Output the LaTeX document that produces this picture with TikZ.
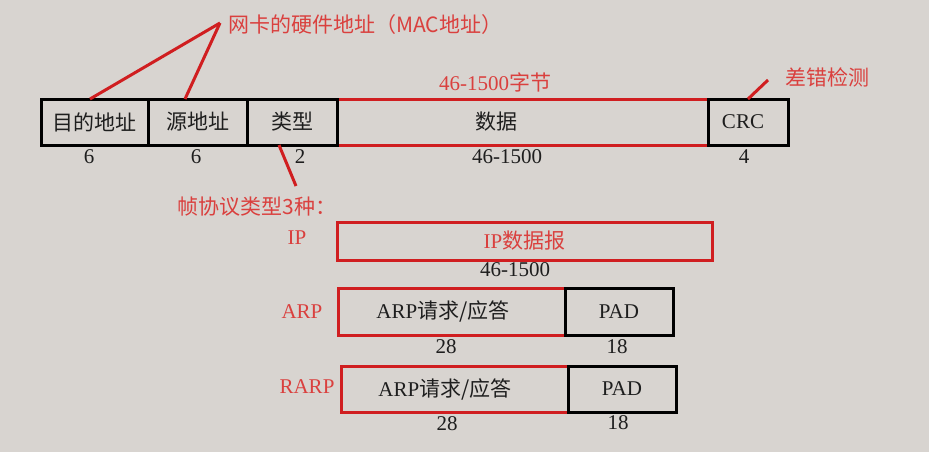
\documentclass[tikz,border=0pt]{standalone}
\usepackage{fontspec}
\setmainfont{Liberation Serif}
\newfontfamily\cjk{Noto Sans CJK SC}
\usetikzlibrary{positioning}
\definecolor{bgcol}{RGB}{216,212,208}
\definecolor{boxred}{RGB}{208,30,32}
\definecolor{notered}{RGB}{218,64,62}
\definecolor{inkcol}{RGB}{30,30,30}

\begin{document}
\begin{tikzpicture}[x=1pt,y=-1pt]
\tikzset{field/.style={rectangle,draw=black,line width=3pt,outer sep=0pt,inner sep=0pt,minimum height=46pt,text=inkcol,font=\fontsize{21}{24}\selectfont},
redfield/.style={field,draw=boxred},
size/.style={text=inkcol,font=\fontsize{21}{24}\selectfont},
note/.style={text=notered,font=\fontsize{21}{24}\selectfont},
pointer/.style={draw=boxred,line width=3pt}}
\fill[bgcol] (0,0) rectangle (929,452);
\useasboundingbox (0,0) rectangle (929,452);
% ethernet frame
\node[field,minimum width=107pt](dst) at (94.5,122){\cjk 目的地址};
\node[field,minimum width=99pt](src)[right=0pt of dst]{\cjk 源地址};
\node[redfield,minimum width=371pt](data)[right=90pt of src]{\cjk 数据\hspace*{52pt}};
\node[field,minimum width=90pt](type)[right=0pt of src]{\cjk 类型};
\node[field,minimum width=80pt](crc)[right=0pt of data]{CRC\hspace*{10pt}};
\node[size](ndst) at (89,157){6};
\node[size](nsrc) at (196,157){6};
\node[size](ntype) at (300,157){2};
\node[size](ndata) at (507,157){46-1500};
\node[size](ncrc) at (744,157){4};
% notes
\node[note](macnote) at (365,25){\cjk 网卡的硬件地址（MAC地址）};
\coordinate (mactip) at (220,23);
\draw[pointer] (mactip) -- ([xshift=-4.5pt]dst.north);
\draw[pointer] (mactip) -- ([xshift=-12.5pt]src.north);
\node[note](lennote) at (495,82){46-1500\cjk 字节};
\node[note](crcnote) at (827,77){\cjk 差错检测};
\coordinate (crctip) at (768,80);
\draw[pointer] (crc.north) -- (crctip);
\node[note](typenote) at (257,207){\cjk 帧协议类型3种：};
\coordinate (typetip) at (296,186);
\draw[pointer] ([xshift=-13pt]type.south) -- (typetip);
% IP
\node[note](iplabel) at (297,238){IP};
\node[redfield,minimum width=375pt,minimum height=38pt,text=notered](ip) at (524.5,241){IP\cjk 数据报};
\node[size](nip) at (515,270){46-1500};
% ARP
\node[note](arplabel) at (302,312){ARP};
\node[redfield,minimum width=227pt,minimum height=47pt](arp) at (451.5,311.5){ARP\cjk 请求/应答\hspace*{17pt}};
\node[field,minimum width=108pt,minimum height=47pt](arppad)[right=0pt of arp]{PAD};
\node[size](narp) at (446,347){28};
\node[size](narppad) at (617,347){18};
% RARP
\node[note](rarplabel) at (307,387){RARP};
\node[redfield,minimum width=227pt](rarp) at (454.5,389){ARP\cjk 请求/应答\hspace*{19pt}};
\node[field,minimum width=108pt](rarppad)[right=0pt of rarp]{PAD};
\node[size](nrarp) at (447,424){28};
\node[size](nrarppad) at (618,423){18};
\end{tikzpicture}
\end{document}
